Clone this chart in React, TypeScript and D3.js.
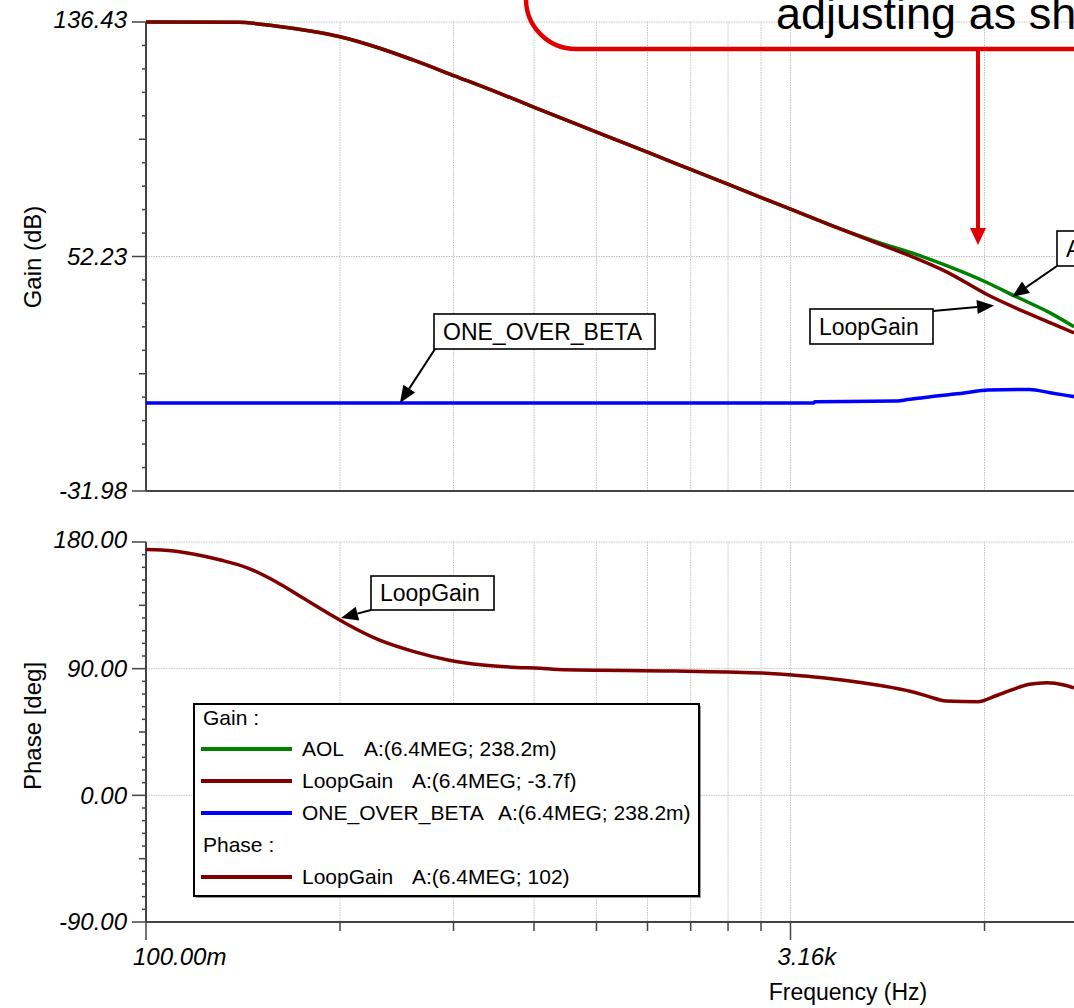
import React from "react";
import * as d3 from "d3";

// gain traces (frequency in Hz, gain in dB)
const gainFreq = [0.1, 0.44, 0.8, 1.4, 2.26, 4.24, 7.31, 14.4, 29.2, 52.4, 138.7, 323.6, 628.5, 1167, 1959, 3138, 6468, 12705, 22300, 38550, 75700, 118700, 206800, 301700];
const aolDb = [136.43, 136.3, 135.0, 133.2, 131.15, 127.1, 122.8, 117.0, 110.9, 105.6, 97.0, 89.5, 83.6, 78.1, 73.5, 69.3, 62.9, 57.5, 53.5, 49.0, 42.7, 37.8, 31.9, 27.0];
const loopGainDb = [136.43, 136.3, 135.0, 133.2, 131.15, 127.1, 122.8, 117.0, 110.9, 105.6, 97.0, 89.5, 83.6, 78.1, 73.5, 69.3, 62.9, 57.0, 52.2, 46.8, 38.4, 33.7, 28.4, 24.8];

const betaFreq = [0.1, 4600, 4690, 17000, 19930, 29310, 51460, 75700, 147700, 205100, 301700];
const oneOverBetaDb = [-0.35, -0.35, 0.1, 0.3, 0.7, 1.8, 3.2, 4.3, 4.5, 3.3, 1.9];

// phase trace
const phaseFreq = [0.1, 0.129, 0.213, 0.332, 0.515, 0.809, 1.249, 1.957, 2.45, 4.24, 7.43, 12.84, 22.5, 38.9, 56.4, 75.3, 502, 2017, 3721, 5508, 7238, 12705, 22300, 29310, 38550, 64030, 88900, 147700, 195400, 257000, 301700];
const loopPhaseDeg = [174.6, 174.3, 171.5, 167.2, 161.5, 151.8, 140.2, 128.2, 122.5, 110.4, 102.1, 96.2, 92.6, 90.9, 90.3, 89.4, 88.3, 86.9, 85.0, 83.4, 82.0, 78.4, 73.6, 70.1, 67.0, 66.5, 71.3, 78.9, 80.0, 78.4, 76.3];

// axis ticks
const xMajor = [0.1, 3162.28];
const xMajorLabels = ["100.00m", "3.16k"];
const gainTicks = [136.43, 52.23, -31.98];
const gainTickLabels = ["136.43", "52.23", "-31.98"];
const phaseTicks = [180, 90, 0, -90];
const phaseTickLabels = ["180.00", "90.00", "0.00", "-90.00"];

const legendGain = [
  { name: "AOL", value: "A:(6.4MEG; 238.2m)", color: "#008000", vx: 364 },
  { name: "LoopGain", value: "A:(6.4MEG; -3.7f)", color: "#800000", vx: 412 },
  { name: "ONE_OVER_BETA", value: "A:(6.4MEG; 238.2m)", color: "#0000ff", vx: 498 },
];
const legendPhase = [{ name: "LoopGain", value: "A:(6.4MEG; 102)", color: "#800000", vx: 412 }];

const W = 1074;
const H = 1008;
const FONT = "'Liberation Sans', Arial, sans-serif";
const GRID = "#c4c4c4";
const AXIS = "#444";

const x = d3.scaleLog().domain([0.1, 1e8]).range([146, 146 + 2 * 644.5]);
const yG = d3.scaleLinear().domain([-31.98, 136.43]).range([491, 22]);
const yP = d3.scaleLinear().domain([-90, 180]).range([922, 542]);

// TINA style: each major division split like a decade (2..9)
const gridFreq = xMajor
  .flatMap((m) => d3.range(1, 10).map((k) => m * Math.pow(k, 4.5)))
  .concat([1e8])
  .filter((f) => x(f) <= W);

type Pt = [number, number];

const Arrow = ({ tail, tip }: { tail: Pt; tip: Pt }) => {
  const dx = tip[0] - tail[0];
  const dy = tip[1] - tail[1];
  const d = Math.hypot(dx, dy);
  const ux = dx / d;
  const uy = dy / d;
  const len = 17;
  const half = 7;
  const bx = tip[0] - ux * len;
  const by = tip[1] - uy * len;
  const pts = `${tip[0]},${tip[1]} ${bx - uy * half},${by + ux * half} ${bx + uy * half},${by - ux * half}`;
  return (
    <g>
      <line x1={tail[0]} y1={tail[1]} x2={bx} y2={by} stroke="#000" strokeWidth={2} />
      <polygon points={pts} fill="#000" />
    </g>
  );
};

const Label = ({ x0, y0, w, h, text }: { x0: number; y0: number; w: number; h: number; text: string }) => (
  <g>
    <rect x={x0} y={y0} width={w} height={h} fill="#fff" stroke="#000" strokeWidth={1.6} />
    <text x={x0 + 9} y={y0 + h / 2} dy="0.35em" fontSize={23} fontFamily={FONT}>
      {text}
    </text>
  </g>
);

const yTicks = (
  scale: d3.ScaleLinear<number, number>,
  majors: number[],
  labels: string[]
) => {
  const lo = majors[majors.length - 1];
  const hi = majors[0];
  const step = (hi - lo) / ((majors.length - 1) * 10);
  const minor = d3.range(0, (majors.length - 1) * 10 + 1).map((i) => ({ v: lo + i * step, i }));
  return (
    <g>
      {minor.map(({ v, i }) => {
        const len = i % 10 === 0 ? 14 : i % 5 === 0 ? 7 : 4;
        return <line key={i} x1={146 - len} x2={146} y1={scale(v)} y2={scale(v)} stroke={AXIS} strokeWidth={1.5} />;
      })}
      {majors.map((v, i) => (
        <text
          key={v}
          x={127}
          y={scale(v) - (i === 0 ? 2 : 0)}
          dy="0.35em"
          textAnchor="end"
          fontSize={24}
          fontStyle="italic"
          fontFamily={FONT}
        >
          {labels[i]}
        </text>
      ))}
    </g>
  );
};

export default function App() {
  const gainLine = (fs: number[], vs: number[]) =>
    d3
      .line<number>()
      .x((_, i) => x(fs[i]))
      .y((v) => yG(v))
      .curve(d3.curveMonotoneX)(vs) || "";
  const phaseLine =
    d3
      .line<number>()
      .x((_, i) => x(phaseFreq[i]))
      .y((v) => yP(v))
      .curve(d3.curveMonotoneX)(loopPhaseDeg) || "";

  return (
    <svg
      width={W}
      height={H}
      viewBox={`0 0 ${W} ${H}`}
      style={{ position: "absolute", left: 0, top: 0, background: "#fff" }}
    >
      <rect width={W} height={H} fill="#fff" />

      {/* grids */}
      {gridFreq.map((f, i) => (
        <g key={i}>
          <line x1={x(f)} x2={x(f)} y1={22} y2={491} stroke={GRID} strokeWidth={1} strokeDasharray="1.5 1" />
          <line x1={x(f)} x2={x(f)} y1={542} y2={922} stroke={GRID} strokeWidth={1} strokeDasharray="1.5 1" />
        </g>
      ))}
      {gainTicks.slice(0, -1).map((v) => (
        <line key={v} x1={146} x2={W} y1={yG(v)} y2={yG(v)} stroke={GRID} strokeWidth={1} strokeDasharray="1.5 1" />
      ))}
      {phaseTicks.slice(0, -1).map((v) => (
        <line key={v} x1={146} x2={W} y1={yP(v)} y2={yP(v)} stroke={GRID} strokeWidth={1} strokeDasharray="1.5 1" />
      ))}

      {/* axes */}
      <line x1={146} x2={146} y1={22} y2={491} stroke={AXIS} strokeWidth={2} />
      <line x1={146} x2={W} y1={491} y2={491} stroke={AXIS} strokeWidth={2} />
      <line x1={146} x2={146} y1={542} y2={922} stroke={AXIS} strokeWidth={2} />
      <line x1={146} x2={W} y1={922} y2={922} stroke={AXIS} strokeWidth={2} />
      {yTicks(yG, gainTicks, gainTickLabels)}
      {yTicks(yP, phaseTicks, phaseTickLabels)}

      {gridFreq.map((f, i) => {
        const major = xMajor.some((m) => Math.abs(m - f) / m < 1e-6);
        return <line key={i} x1={x(f)} x2={x(f)} y1={922} y2={major ? 940 : 931} stroke={AXIS} strokeWidth={1.5} />;
      })}
      {xMajor.map((f, i) => (
        <text key={f} x={x(f) - 13} y={965} fontSize={24} fontStyle="italic" fontFamily={FONT}>
          {xMajorLabels[i]}
        </text>
      ))}

      <text x={848} y={1000} textAnchor="middle" fontSize={23} fontFamily={FONT}>
        Frequency (Hz)
      </text>
      <text transform="translate(41,257) rotate(-90)" textAnchor="middle" fontSize={24} fontFamily={FONT}>
        Gain (dB)
      </text>
      <text transform="translate(41,726) rotate(-90)" textAnchor="middle" fontSize={24} fontFamily={FONT}>
        Phase [deg]
      </text>

      {/* traces */}
      <path d={gainLine(gainFreq, aolDb)} fill="none" stroke="#008000" strokeWidth={3.5} />
      <path d={gainLine(gainFreq, loopGainDb)} fill="none" stroke="#800000" strokeWidth={3.5} />
      <path d={gainLine(betaFreq, oneOverBetaDb)} fill="none" stroke="#0000ff" strokeWidth={3.5} />
      <path d={phaseLine} fill="none" stroke="#800000" strokeWidth={3.5} />

      {/* trace labels */}
      <Label x0={434} y0={314} w={221} h={35} text="ONE_OVER_BETA" />
      <Arrow tail={[435, 349]} tip={[x(5.93), yG(-0.35)]} />
      <Label x0={810} y0={309} w={123} h={35} text="LoopGain" />
      <Arrow tail={[933, 311]} tip={[x(83400), yG(34.6)]} />
      <Label x0={1057} y0={231} w={80} h={35} text="AOL" />
      <Arrow tail={[1057, 266]} tip={[x(111300), yG(37.7)]} />
      <Label x0={371} y0={576} w={123} h={34} text="LoopGain" />
      <Arrow tail={[371, 610]} tip={[x(2.3), yP(126)]} />

      {/* callout */}
      <path d="M526,-30 L526,-1 A50,50 0 0 0 576,49 L1120,49" fill="none" stroke="#e00000" strokeWidth={4.5} />
      <line x1={978} x2={978} y1={49} y2={230} stroke="#e00000" strokeWidth={4} />
      <polygon points="978,245 970,228 986,228" fill="#e00000" />
      <text x={776} y={29} fontSize={45} fontFamily={FONT}>
        adjusting as shown
      </text>

      {/* legend */}
      <rect x={196} y={706} width={505} height={192} fill="#999" />
      <rect x={194} y={704} width={505} height={192} fill="#fff" stroke="#000" strokeWidth={2} />
      <text x={203} y={718} dy="0.35em" fontSize={21} fontFamily={FONT}>
        Gain :
      </text>
      {legendGain.map((d, i) => {
        const yy = 749 + i * 32;
        return (
          <g key={d.name}>
            <line x1={201} x2={292} y1={yy} y2={yy} stroke={d.color} strokeWidth={4} />
            <text x={302} y={yy} dy="0.35em" fontSize={21} fontFamily={FONT}>
              {d.name}
            </text>
            <text x={d.vx} y={yy} dy="0.35em" fontSize={21} fontFamily={FONT}>
              {d.value}
            </text>
          </g>
        );
      })}
      <text x={203} y={845} dy="0.35em" fontSize={21} fontFamily={FONT}>
        Phase :
      </text>
      {legendPhase.map((d) => (
        <g key={d.name}>
          <line x1={201} x2={292} y1={877} y2={877} stroke={d.color} strokeWidth={4} />
          <text x={302} y={877} dy="0.35em" fontSize={21} fontFamily={FONT}>
            {d.name}
          </text>
          <text x={d.vx} y={877} dy="0.35em" fontSize={21} fontFamily={FONT}>
            {d.value}
          </text>
        </g>
      ))}
    </svg>
  );
}
